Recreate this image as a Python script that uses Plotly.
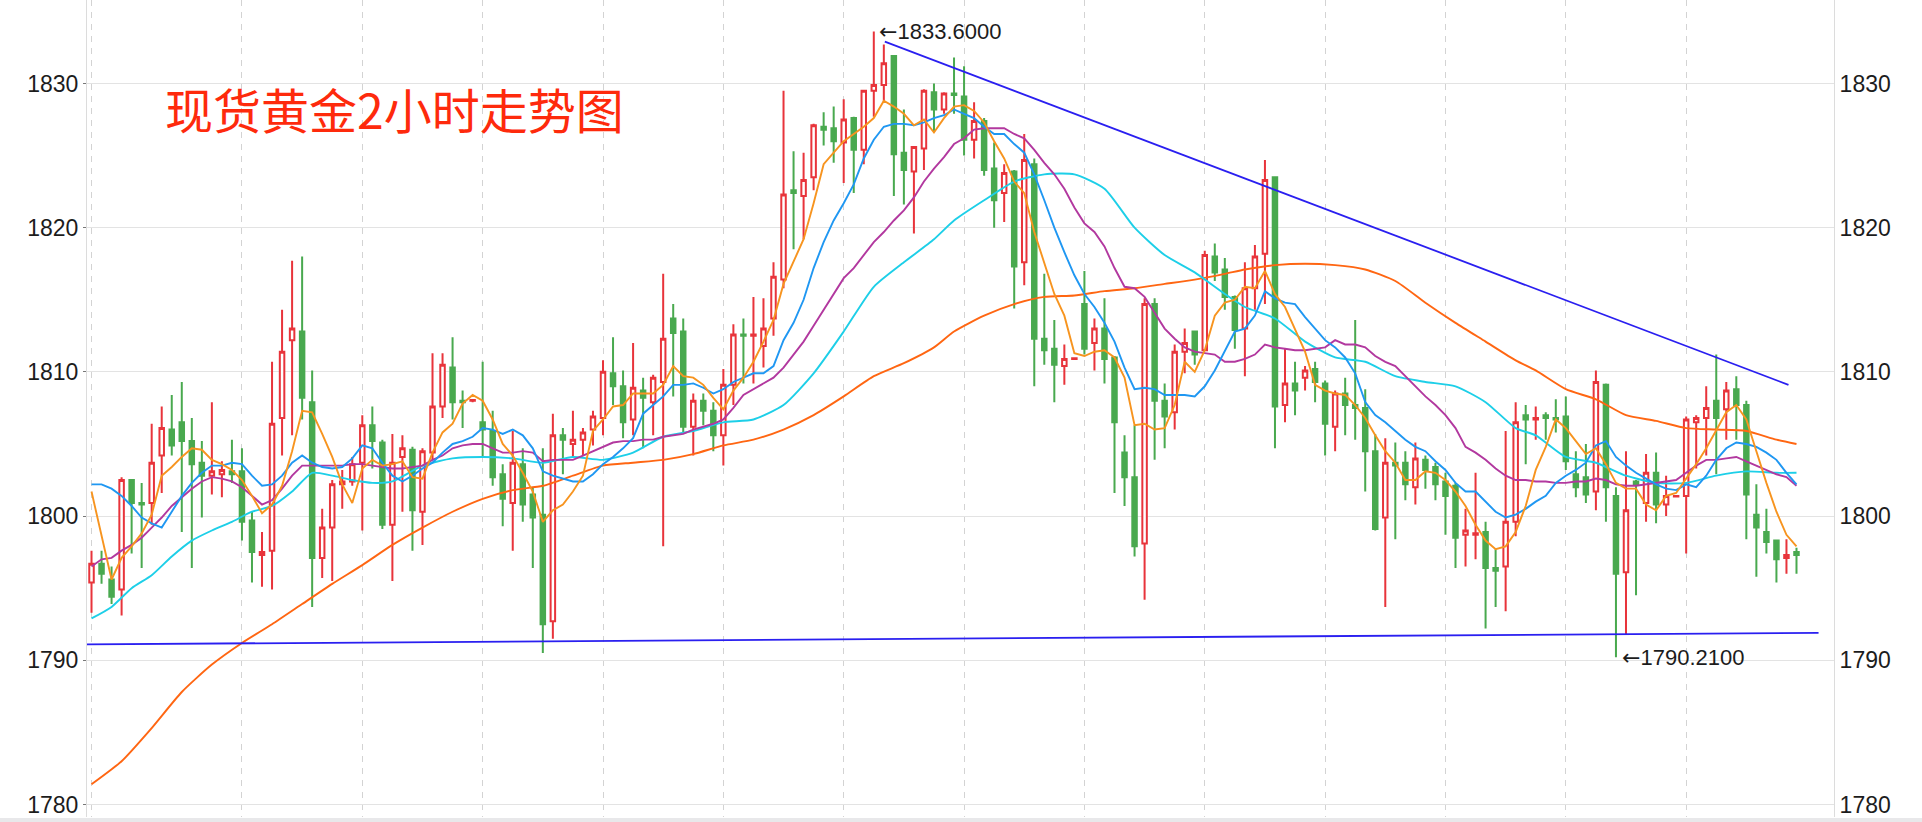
import plotly.graph_objects as go

# ---------------- data (2-hour candles) ----------------
opens = [1795.4,1796.7,1795.6,1794.9,1802.5,1800.9,1800.9,1804.2,1806.0,1806.5,
         1805.2,1803.7,1802.8,1802.9,1803.1,1803.1,1799.7,1797.3,1797.6,1806.8,
         1812.2,1812.8,1807.9,1797.1,1799.2,1802.2,1802.4,1803.7,1806.3,1805.1,
         1799.4,1804.1,1804.6,1800.3,1804.4,1807.6,1810.3,1808.0,1808.0,1806.5,
         1805.9,1802.9,1800.9,1803.6,1801.5,1800.1,1792.7,1805.6,1805.0,1805.3,
         1806.0,1806.8,1809.9,1809.0,1806.7,1808.7,1807.9,1809.3,1813.7,1812.8,
         1806.2,1808.0,1807.3,1805.6,1809.1,1812.6,1812.5,1811.8,1813.7,1816.4,
         1822.6,1822.2,1823.5,1827.0,1826.9,1825.9,1827.6,1825.4,1829.5,1829.9,
         1831.9,1825.2,1823.9,1825.5,1829.4,1828.2,1829.3,1829.1,1826.1,1827.4,
         1824.1,1822.4,1823.9,1817.6,1824.4,1812.3,1811.6,1810.4,1810.9,1814.7,
         1812.0,1813.0,1811.0,1804.4,1802.7,1798.1,1814.7,1808.0,1807.2,1811.4,
         1812.8,1811.5,1818.0,1817.1,1815.2,1813.0,1815.8,1818.2,1823.5,1807.7,
         1809.2,1809.6,1810.2,1809.2,1806.2,1808.5,1807.7,1807.5,1804.5,1799.9,
         1803.7,1803.7,1802.0,1803.9,1803.4,1802.4,1802.1,1798.7,1798.7,1798.9,
         1796.4,1796.5,1799.6,1807.0,1806.7,1807.0,1806.8,1806.9,1802.9,1802.7,
         1801.7,1809.1,1801.4,1796.1,1802.4,1800.9,1803.0,1800.8,1801.35,1801.4,
         1806.5,1806.8,1808.0,1807.4,1808.8,1807.7,1800.1,1798.9,1798.3,1797.1,
         1797.5]
highs = [1797.6,1797.6,1796.5,1802.7,1802.5,1802.3,1806.4,1807.6,1808.4,1809.3,
         1806.8,1805.2,1807.9,1803.8,1805.3,1804.7,1800.3,1798.9,1810.7,1814.3,
         1817.7,1818.0,1810.1,1800.5,1802.5,1803.2,1804.1,1807.0,1807.6,1805.3,
         1805.7,1805.6,1804.8,1804.7,1811.3,1811.3,1812.4,1808.7,1808.1,1810.7,
         1807.3,1803.6,1805.9,1804.7,1802.0,1804.7,1807.1,1806.1,1807.3,1806.1,
         1807.3,1810.8,1812.4,1810.1,1812.0,1809.6,1809.8,1816.8,1814.7,1813.7,
         1808.5,1808.5,1807.9,1810.2,1813.3,1813.7,1815.2,1815.1,1817.6,1829.5,
         1825.3,1825.2,1827.2,1828.0,1828.4,1828.9,1827.7,1829.5,1833.6,1832.7,
         1831.9,1828.2,1825.6,1829.6,1830.0,1829.4,1831.8,1831.2,1828.7,1827.6,
         1825.9,1824.4,1824.0,1826.5,1824.8,1816.8,1813.6,1811.9,1811.0,1817.0,
         1813.7,1815.1,1811.1,1805.6,1806.3,1815.1,1815.1,1809.2,1811.9,1813.0,
         1812.8,1818.4,1818.9,1817.9,1815.3,1817.6,1818.8,1824.7,1823.5,1811.6,
         1810.7,1810.4,1810.7,1809.4,1808.7,1809.6,1813.6,1808.8,1805.7,1805.4,
         1805.1,1804.5,1805.1,1804.2,1803.7,1803.0,1802.3,1800.5,1803.0,1799.6,
         1797.7,1805.9,1807.9,1807.7,1807.6,1807.2,1808.1,1808.3,1804.5,1805.0,
         1810.1,1809.2,1802.0,1804.5,1802.5,1804.3,1804.4,1802.8,1801.45,1806.9,
         1807.0,1809.0,1811.2,1809.3,1809.7,1808.0,1802.2,1800.5,1798.3,1798.4,
         1797.8]
lows = [1793.3,1795.3,1793.9,1793.1,1797.4,1796.4,1799.4,1801.6,1804.2,1798.9,
        1796.4,1799.9,1801.5,1801.3,1802.3,1798.3,1795.4,1795.1,1794.9,1804.2,
        1805.6,1806.7,1793.7,1795.7,1795.5,1800.5,1802.1,1799.0,1803.3,1799.1,
        1795.5,1800.3,1797.6,1798.0,1803.9,1806.8,1806.7,1806.1,1807.9,1804.1,
        1802.1,1799.3,1797.6,1799.6,1796.4,1790.5,1791.5,1802.9,1804.1,1804.2,
        1804.9,1805.6,1807.7,1805.4,1805.6,1804.7,1805.6,1797.9,1808.3,1805.8,
        1804.2,1806.3,1804.5,1803.5,1807.7,1809.2,1809.2,1810.3,1812.5,1815.8,
        1818.5,1819.2,1822.6,1825.7,1824.5,1823.1,1822.4,1824.4,1827.7,1828.7,
        1822.2,1821.6,1819.6,1824.0,1826.7,1827.9,1827.9,1825.0,1824.8,1823.6,
        1820.0,1820.4,1814.4,1816.0,1809.0,1810.5,1807.9,1809.1,1810.85,1811.2,
        1810.1,1809.2,1801.6,1800.7,1797.2,1794.2,1803.9,1804.7,1806.0,1809.9,
        1810.5,1811.5,1816.3,1814.3,1811.6,1809.7,1814.3,1814.7,1804.7,1806.5,
        1807.0,1808.7,1807.9,1804.2,1804.5,1805.6,1805.3,1801.7,1799.0,1793.7,
        1798.4,1801.1,1800.8,1801.9,1801.1,1798.7,1796.4,1796.5,1797.0,1792.2,
        1793.7,1793.4,1798.6,1803.6,1805.3,1805.3,1805.8,1803.2,1801.3,1800.9,
        1800.4,1799.6,1790.21,1791.8,1794.5,1799.6,1799.5,1800.0,1801.3,1797.4,
        1803.3,1804.2,1802.9,1805.3,1805.3,1798.4,1795.8,1797.4,1795.4,1796.0,
        1796.0]
closes = [1796.7,1796.0,1794.4,1802.5,1800.9,1800.8,1803.7,1806.1,1804.9,1805.2,
          1803.6,1802.8,1803.1,1803.2,1802.9,1799.6,1797.5,1797.5,1806.4,1811.4,
          1813.0,1808.2,1797.1,1799.2,1802.2,1802.4,1803.6,1806.3,1805.2,1799.4,
          1803.7,1804.7,1800.4,1804.5,1807.6,1810.5,1807.9,1807.9,1808.05,1806.0,
          1802.7,1801.2,1803.7,1800.8,1799.9,1792.5,1805.6,1805.3,1805.3,1805.8,
          1806.9,1810.0,1809.0,1806.5,1808.9,1808.2,1809.6,1812.3,1812.7,1806.2,
          1808.0,1807.3,1805.6,1809.1,1812.6,1812.5,1812.6,1813.0,1816.6,1822.3,
          1822.4,1823.3,1827.1,1826.8,1826.0,1827.5,1825.4,1829.5,1829.9,1831.4,
          1825.1,1824.0,1825.6,1829.5,1828.2,1829.3,1829.2,1826.1,1827.4,1824.0,
          1821.9,1823.8,1817.3,1824.7,1812.3,1811.5,1810.5,1810.9,1810.95,1811.6,
          1813.0,1810.9,1806.5,1802.7,1797.9,1814.7,1808.0,1806.9,1811.4,1812.0,
          1811.2,1818.1,1816.9,1815.2,1812.9,1815.8,1818.0,1823.3,1807.6,1809.2,
          1808.7,1810.1,1809.3,1806.4,1808.5,1807.7,1807.5,1804.5,1799.1,1803.7,
          1803.5,1802.2,1804.0,1803.2,1802.2,1801.4,1798.5,1799.0,1798.8,1796.4,
          1796.2,1799.6,1806.5,1806.7,1806.8,1806.8,1806.7,1803.8,1802.0,1801.5,
          1809.3,1802.0,1796.0,1800.4,1802.2,1803.0,1800.8,1801.4,1801.4,1806.7,
          1806.8,1807.5,1806.8,1808.7,1807.7,1801.5,1799.2,1798.2,1797.0,1797.3,
          1797.3]

# moving-average lines as drawn in the picture (one value per candle)
ma5 = [1801.7,1798.7,1795.6,1797.1,1797.9,1798.8,1800.1,1802.8,1803.4,1804.1,
       1804.7,1804.6,1803.9,1803.6,1803.2,1802.5,1801.4,1800.2,1800.8,1802.1,
       1804.5,1807.3,1807.2,1805.7,1804.1,1802.2,1800.9,1803.3,1803.9,1803.5,
       1803.6,1803.8,1802.7,1802.6,1804.4,1805.8,1806.4,1807.8,1808.4,1808.0,
       1806.7,1805.0,1804.2,1803.0,1801.7,1799.6,1800.4,1800.8,1801.7,1802.8,
       1805.9,1806.7,1807.6,1807.7,1808.5,1808.5,1808.5,1809.1,1810.4,1809.7,
       1809.6,1809.1,1808.2,1807.4,1808.7,1809.6,1810.7,1812.1,1813.6,1816.1,
       1817.6,1819.2,1821.7,1824.4,1825.2,1826.0,1826.5,1827.0,1827.6,1828.8,
       1828.4,1827.9,1827.1,1827.5,1826.6,1827.6,1828.4,1828.5,1828.1,1827.3,
       1826.0,1824.8,1823.2,1822.4,1819.7,1817.6,1815.4,1813.9,1811.3,1811.1,
       1811.4,1811.5,1811.0,1809.6,1806.3,1806.4,1806.0,1806.1,1807.7,1810.7,
       1810.0,1811.5,1813.9,1814.8,1815.0,1815.9,1815.8,1817.0,1815.4,1814.5,
       1813.0,1811.4,1809.1,1808.7,1808.5,1808.4,1807.7,1806.8,1805.6,1804.5,
       1803.7,1802.5,1802.5,1803.1,1803.0,1802.5,1801.7,1800.7,1799.4,1798.3,
       1797.7,1797.9,1798.9,1800.7,1803.2,1804.8,1806.7,1806.1,1805.2,1804.3,
       1804.7,1803.6,1802.3,1801.9,1801.9,1800.8,1800.4,1801.4,1801.6,1802.6,
       1803.6,1804.7,1805.9,1807.2,1807.7,1806.7,1804.5,1802.3,1800.3,1798.7,
       1797.9]
ma10 = [1802.2,1802.2,1801.9,1801.4,1800.7,1799.9,1799.5,1799.2,1800.3,1801.4,
        1802.3,1803.0,1803.5,1803.5,1803.7,1803.6,1802.8,1802.1,1802.2,1802.8,
        1803.7,1804.2,1803.7,1803.4,1803.3,1803.4,1804.0,1804.9,1804.7,1803.7,
        1802.8,1802.4,1802.8,1803.3,1803.7,1804.4,1805.0,1805.2,1805.5,1806.1,
        1806.0,1805.7,1806.0,1805.6,1804.7,1803.1,1802.8,1802.6,1802.4,1802.4,
        1802.9,1803.6,1804.1,1804.7,1805.4,1807.1,1807.7,1808.3,1809.1,1809.1,
        1809.2,1808.9,1808.5,1808.8,1809.3,1809.6,1809.9,1809.9,1810.4,1812.2,
        1813.4,1815.0,1817.2,1819.0,1820.5,1821.7,1823.0,1824.8,1826.1,1827.0,
        1827.2,1827.2,1827.1,1827.3,1827.6,1827.8,1828.2,1827.9,1827.6,1827.0,
        1826.5,1826.5,1825.8,1825.2,1823.7,1821.9,1820.0,1818.3,1816.7,1815.4,
        1814.5,1813.4,1812.1,1810.3,1808.8,1808.9,1808.8,1808.4,1808.4,1808.4,
        1808.3,1809.0,1810.1,1811.4,1812.8,1813.0,1813.9,1815.6,1815.1,1814.8,
        1814.7,1813.8,1813.0,1812.2,1811.7,1811.0,1809.9,1807.9,1807.0,1806.5,
        1805.9,1805.3,1804.8,1804.5,1803.8,1803.2,1802.3,1801.7,1801.7,1801.0,
        1800.3,1799.9,1800.1,1800.5,1801.0,1801.4,1802.3,1802.8,1803.2,1803.7,
        1804.9,1805.2,1804.1,1803.5,1803.0,1802.6,1802.2,1801.9,1801.8,1802.2,
        1802.0,1802.8,1803.9,1804.7,1805.1,1805.0,1804.8,1804.4,1803.9,1803.0,
        1802.2]
ma20 = [1796.5,1797.0,1797.1,1797.6,1798.0,1798.5,1799.2,1799.9,1800.7,1801.3,
        1801.9,1802.4,1802.7,1802.6,1802.4,1802.0,1801.4,1800.8,1801.1,1801.9,
        1802.8,1803.5,1803.5,1803.5,1803.5,1803.5,1803.6,1803.6,1803.5,1803.4,
        1803.3,1803.3,1803.4,1803.5,1803.9,1804.2,1804.7,1804.9,1805.0,1805.0,
        1804.7,1804.4,1804.4,1804.5,1804.4,1803.8,1803.9,1803.9,1803.9,1804.2,
        1804.5,1804.8,1805.1,1805.2,1805.2,1805.3,1805.3,1805.5,1805.6,1805.7,
        1806.0,1806.2,1806.4,1806.7,1807.5,1808.4,1808.8,1809.2,1809.6,1810.3,
        1811.2,1812.1,1813.2,1814.3,1815.4,1816.5,1817.2,1818.1,1819.0,1819.7,
        1820.5,1821.2,1822.1,1823.2,1824.1,1824.9,1825.8,1826.2,1826.8,1826.9,
        1826.9,1826.9,1826.5,1826.2,1825.4,1824.5,1823.7,1822.7,1821.4,1820.3,
        1819.7,1818.7,1817.2,1815.9,1815.8,1815.2,1814.1,1813.0,1812.3,1811.7,
        1811.4,1811.3,1811.2,1810.7,1810.7,1810.9,1811.2,1811.9,1811.7,1811.6,
        1811.5,1811.5,1811.6,1811.7,1812.2,1811.9,1811.9,1811.7,1811.1,1810.7,
        1810.4,1809.7,1809.0,1808.3,1807.7,1807.0,1806.1,1804.8,1804.4,1803.9,
        1803.3,1802.8,1802.5,1802.5,1802.4,1802.4,1802.3,1802.3,1802.4,1802.4,
        1802.6,1802.5,1802.2,1802.1,1802.1,1802.2,1802.3,1802.4,1802.5,1803.0,
        1803.5,1803.9,1803.9,1804.0,1804.1,1803.8,1803.5,1803.2,1802.9,1802.7,
        1802.1]
# slower averages, read at sampled candles
ma30_x = [0,2,4,6,8,10,12,14,16,18,20,22,24,26,28,30,33,36,39,42,45,48,51,54,57,
          60,63,66,69,72,75,78,81,84,86,89,92,95,98,101,104,107,110,113,115,
          118,121,124,127,130,133,136,139,142,144,147,150,153,156,159,162,165,168,170]
ma30 = [1792.9,1793.7,1795.0,1795.9,1797.2,1798.3,1799.0,1799.6,1800.3,1800.7,
        1801.7,1803.0,1802.8,1802.5,1802.3,1802.4,1803.5,1804.0,1804.1,1804.0,
        1803.7,1804.1,1803.9,1804.4,1805.5,1805.9,1806.5,1806.7,1807.7,1809.9,
        1812.8,1815.9,1817.6,1819.2,1820.5,1821.9,1823.2,1823.7,1823.7,1822.7,
        1820.0,1818.1,1816.9,1815.4,1814.5,1813.7,1812.1,1811.0,1810.7,1809.7,
        1809.3,1809.0,1807.9,1806.1,1805.6,1804.1,1803.7,1802.8,1802.3,1802.3,
        1802.8,1803.1,1803.0,1803.0]
ma60_x = [0,3,6,9,12,15,18,21,24,27,30,33,36,39,42,45,48,51,54,57,
          60,63,66,69,72,75,78,81,84,86,89,92,95,98,101,104,107,110,113,115,
          118,121,124,127,130,133,136,139,142,144,147,150,153,156,159,162,165,168,170]
ma60 = [1781.4,1783.0,1785.3,1787.8,1789.7,1791.2,1792.5,1793.9,1795.3,1796.6,
        1798.0,1799.2,1800.3,1801.2,1801.8,1802.1,1802.8,1803.5,1803.7,1803.9,
        1804.3,1804.9,1805.3,1806.0,1807.0,1808.3,1809.7,1810.6,1811.7,1812.8,
        1813.9,1814.7,1815.2,1815.3,1815.6,1815.8,1816.1,1816.4,1816.8,1817.1,
        1817.4,1817.5,1817.4,1817.1,1816.3,1814.8,1813.4,1812.1,1810.8,1810.1,
        1808.8,1808.1,1807.0,1806.6,1806.1,1806.0,1805.9,1805.3,1805.0]

# hand-drawn trend lines (candle index, price)
upper_x = [79.1, 169.2]
upper_y = [1832.9, 1809.1]
lower_x = [-0.45, 172.2]
lower_y = [1791.1, 1791.9]

day_ticks = [0, 15, 27, 39, 51, 63, 75, 87, 99, 111, 123, 135, 147, 159]
price_ticks = [1780, 1790, 1800, 1810, 1820, 1830]
title_text = "现货黄金2小时走势图"

# ---------------- figure ----------------
idx = list(range(len(opens)))
RED = "#e8343b"
GREEN = "#49a94f"

fig = go.Figure()
fig.add_trace(go.Candlestick(
    x=idx, open=opens, high=highs, low=lows, close=closes,
    increasing=dict(line=dict(color=RED, width=2), fillcolor="#ffffff"),
    decreasing=dict(line=dict(color=GREEN, width=2), fillcolor=GREEN),
    whiskerwidth=0, showlegend=False, hoverinfo="skip"))

line_specs = [
    (ma60_x, ma60, "#ff6612", "spline"),
    (ma30_x, ma30, "#1dcfe8", "spline"),
    (idx, ma20, "#b2389f", "linear"),
    (idx, ma10, "#1f97f2", "linear"),
    (idx, ma5, "#f7941f", "linear"),
]
for xs, ys, col, shp in line_specs:
    ln = dict(color=col, width=1.9, shape=shp)
    if shp == "spline":
        ln["smoothing"] = 0.6
    fig.add_trace(go.Scatter(x=xs, y=ys, mode="lines", line=ln,
                             showlegend=False, hoverinfo="skip"))

for xs, ys in [(upper_x, upper_y), (lower_x, lower_y)]:
    fig.add_trace(go.Scatter(x=xs, y=ys, mode="lines",
                             line=dict(color="#2a1ff0", width=1.8),
                             showlegend=False, hoverinfo="skip", cliponaxis=False))

# invisible trace so that the right-hand price axis is drawn
fig.add_trace(go.Scatter(x=[idx[0]], y=[closes[0]], yaxis="y2", mode="markers",
                         marker=dict(opacity=0), showlegend=False, hoverinfo="skip"))

hi = max(highs)
lo = min(lows)
hi_i = highs.index(hi)
lo_i = lows.index(lo)

YR = [1779.13, 1835.79]
LAT = "Liberation Sans, Arial, sans-serif"
tick_font = dict(family=LAT, size=23, color="#1c1c1c")
arrow = '<span style="font-family:DejaVu Sans">←</span>'

fig.update_layout(
    width=1922, height=822, autosize=False,
    margin=dict(l=87, r=88, t=0, b=5, pad=0),
    paper_bgcolor="#ffffff", plot_bgcolor="#ffffff",
    boxgap=0.36,
    xaxis=dict(range=[-0.45, 173.74], tickmode="array", tickvals=day_ticks,
               showticklabels=False, ticks="", showgrid=True, gridcolor="#d3d3d3",
               griddash="6px,6px", gridwidth=1, zeroline=False, showline=False,
               rangeslider=dict(visible=False), fixedrange=True),
    yaxis=dict(range=YR, tickmode="array", tickvals=price_ticks, side="left",
               showgrid=True, gridcolor="#e3e3e3", gridwidth=1, zeroline=False,
               showline=True, linecolor="#dcdcdc", linewidth=1,
               ticks="outside", ticklen=3, tickcolor="#777", tickfont=tick_font),
    yaxis2=dict(range=YR, tickmode="array", tickvals=price_ticks, side="right",
                overlaying="y", showgrid=False, zeroline=False,
                showline=True, linecolor="#dcdcdc", linewidth=1,
                ticks="", tickfont=tick_font),
    annotations=[
        dict(text=title_text, xref="paper", yref="paper", x=0.0435, y=0.8678,
             xanchor="left", yanchor="middle", showarrow=False,
             font=dict(family="Noto Sans CJK SC", size=48, color="#fe2a0c")),
        dict(text=arrow + f"{hi:.4f}", xref="x", yref="y", x=hi_i, y=hi,
             xanchor="left", yanchor="middle", xshift=3, showarrow=False,
             font=dict(family=LAT, size=22, color="#1c1c1c")),
        dict(text=arrow + f"{lo:.4f}", xref="x", yref="y", x=lo_i, y=lo,
             xanchor="left", yanchor="middle", xshift=4, showarrow=False,
             font=dict(family=LAT, size=22, color="#1c1c1c")),
    ],
    shapes=[dict(type="rect", xref="paper", yref="paper", x0=-0.06, x1=1.06,
                 y0=-0.0075, y1=-0.0013, fillcolor="#e8e8ea", line=dict(width=0),
                 layer="above")],
)

fig.write_html("out.html", config={"displayModeBar": False},
               post_script="document.body.style.margin='0px';")
